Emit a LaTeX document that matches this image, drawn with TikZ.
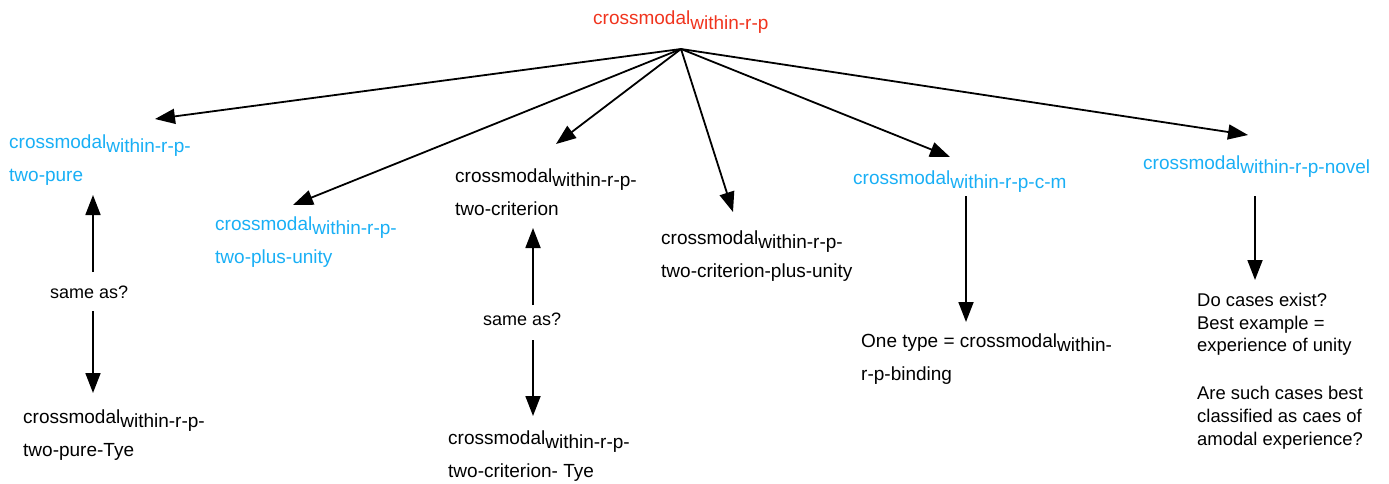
\documentclass[tikz,border=0pt]{standalone}
\usepackage{fontspec}
\setmainfont{Liberation Sans}
\usetikzlibrary{arrows.meta}
\definecolor{redt}{RGB}{240,52,30}
\definecolor{bluet}{RGB}{25,175,245}
\newcommand{\lsub}[1]{\raisebox{-4.5pt}{#1}}
% multi-line nodes are anchored at the baseline of their last line
\tikzset{
  lbl/.style={anchor=base west, inner sep=0pt, align=left, font=\fontsize{19}{33}\selectfont},
  small/.style={anchor=base west, inner sep=0pt, font=\fontsize{18}{22}\selectfont},
  note/.style={anchor=base west, inner sep=0pt, align=left, font=\fontsize{18.4}{22.6}\selectfont},
  arr/.style={line width=1.8pt, -{Triangle[length=20pt,width=15pt]}},
}
\begin{document}
\begin{tikzpicture}[x=1pt,y=-1pt]
\useasboundingbox (0,0) rectangle (1389,484);
% nodes
\node[lbl, text=redt] (root) at (593,25) {crossmodal\lsub{within-r-p}};
\coordinate (hub) at (681,49);
\node[lbl, text=bluet] (pure) at (9,181) {crossmodal\lsub{within-r-p-}\\two-pure};
\node[lbl, text=bluet] (plus) at (215,263) {crossmodal\lsub{within-r-p-}\\two-plus-unity};
\node[lbl] (crit) at (455,215) {crossmodal\lsub{within-r-p-}\\two-criterion};
\node[lbl] (critpu) at (661,277) {crossmodal\lsub{within-r-p-}\\two-criterion-plus-unity};
\node[lbl, text=bluet] (cm) at (853,184) {crossmodal\lsub{within-r-p-c-m}};
\node[lbl, text=bluet] (novel) at (1143,169) {crossmodal\lsub{within-r-p-novel}};
\node[small] (same1) at (50,298) {same as?};
\node[lbl] (pureTye) at (23,456) {crossmodal\lsub{within-r-p-}\\two-pure-Tye};
\node[small] (same2) at (483,325) {same as?};
\node[lbl] (critTye) at (448,477) {crossmodal\lsub{within-r-p-}\\two-criterion- Tye};
\node[lbl] (onetype) at (861,380) {One type = crossmodal\lsub{within-}\\r-p-binding};
\node[note] (quest) at (1197,445) {Do cases exist?\\Best example =\\experience of unity\\[25.4pt]Are such cases best\\classified as caes of\\amodal experience?};
% arrow end points
\coordinate (t1) at (155,119);
\coordinate (t2) at (293,205);
\coordinate (t3) at (556,144);
\coordinate (t4) at (733,212);
\coordinate (t5) at (950,157);
\coordinate (t6) at (1248,135);
\coordinate (s1u) at (93,272);
\coordinate (s1t) at (93,195);
\coordinate (s1d) at (93,311);
\coordinate (s1b) at (93,393);
\coordinate (s2u) at (533,305);
\coordinate (s2t) at (533,228);
\coordinate (s2d) at (533,340);
\coordinate (s2b) at (533,416);
\coordinate (cmu) at (966,196);
\coordinate (cmb) at (966,322);
\coordinate (nvu) at (1255,196);
\coordinate (nvb) at (1255,280);
% connectors
\foreach \t in {t1,t2,t3,t4,t5,t6} \draw[arr] (hub) -- (\t);
\draw[arr] (s1u) -- (s1t);
\draw[arr] (s1d) -- (s1b);
\draw[arr] (s2u) -- (s2t);
\draw[arr] (s2d) -- (s2b);
\draw[arr] (cmu) -- (cmb);
\draw[arr] (nvu) -- (nvb);
\end{tikzpicture}
\end{document}
